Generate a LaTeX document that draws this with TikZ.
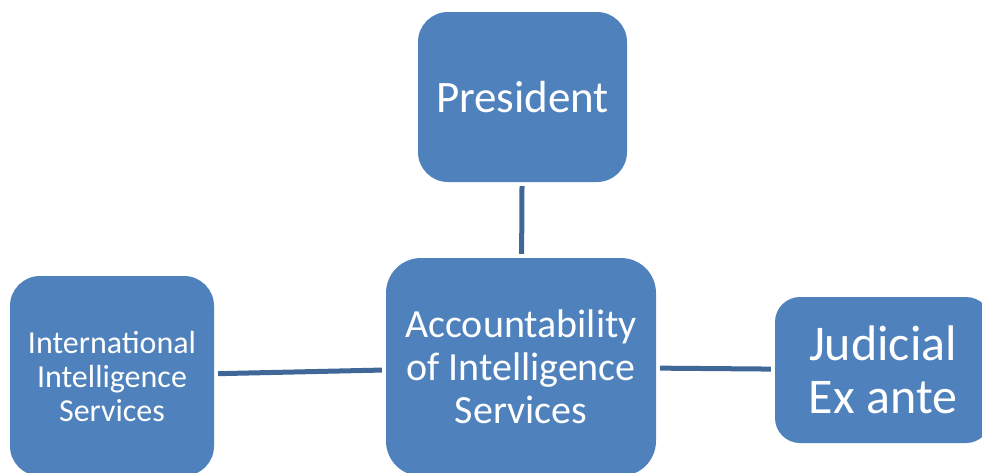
\documentclass[tikz,border=0pt]{standalone}
\usepackage{fontspec}
\setmainfont{Carlito}
\usepackage{xcolor}
\definecolor{boxblue}{HTML}{4F81BD}
\definecolor{lineblue}{HTML}{3F6797}

\begin{document}
\begin{tikzpicture}[x=1pt, y=-1pt,
	box/.style={fill=boxblue, text=white, align=center, inner sep=0pt},
	link/.style={draw=lineblue, line width=5pt, shorten <=4pt, shorten >=4pt}]
	\useasboundingbox (0,0) rectangle (982,472);
	\node [box, minimum width=209pt, minimum height=170pt, rounded corners=30pt, font=\fontsize{45}{50}\selectfont] (president) at (522.5,97) {President};
	\node [box, minimum width=270pt, minimum height=218pt, rounded corners=35pt, font=\fontsize{40}{43}\selectfont] (account) at (521,367) {Accountability\\of Intelligence\\Services};
	\node [box, minimum width=204pt, minimum height=200pt, rounded corners=30pt, font=\fontsize{32}{34}\selectfont] (intl) at (112,376) {International\\Intelligence\\Services};
	\node [box, minimum width=216pt, minimum height=146pt, rounded corners=25pt, font=\fontsize{50}{53}\selectfont] (judicial) at (883,370) {Judicial\\Ex ante};
	\draw [link] (president) -- (account);
	\draw [link] (intl) -- (account);
	\draw [link] (account) -- (judicial);
\end{tikzpicture}
\end{document}
